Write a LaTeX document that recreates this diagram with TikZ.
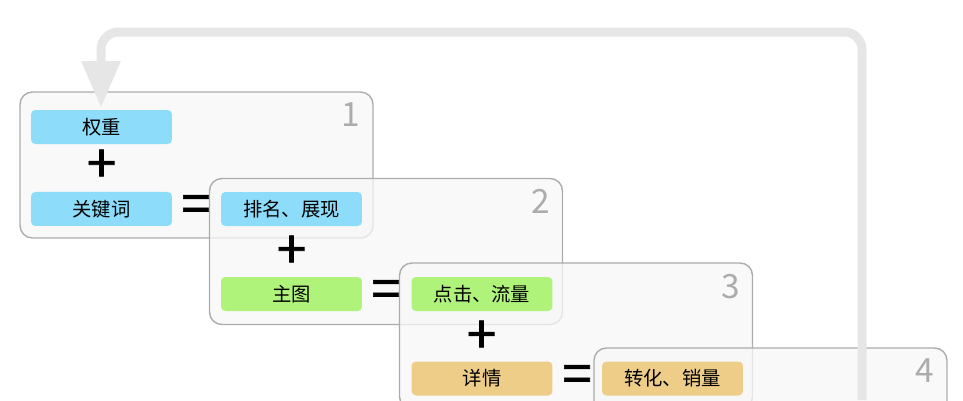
\documentclass[tikz,border=0pt]{standalone}
\usepackage{fontspec}
\setmainfont{Noto Sans CJK SC}
\newfontfamily\opfont[FakeBold=1.3]{Noto Sans CJK SC}
\usepackage{xcolor}
\usetikzlibrary{positioning,arrows.meta}

\definecolor{tagblue}{RGB}{141,220,250}
\definecolor{taggreen}{RGB}{176,243,122}
\definecolor{tagtan}{RGB}{237,205,136}
\definecolor{loopgray}{RGB}{230,230,230}

\begin{document}
\begin{tikzpicture}[
  x=0.02cm, y=-0.02cm,
  node distance=0.96cm,
  stage/.style={rectangle, draw=gray!65, fill=gray!6, fill opacity=0.75, rounded corners=7pt, line width=0.8pt, minimum width=7.06cm, minimum height=2.92cm},
  tag/.style={rectangle, rounded corners=2.5pt, minimum width=2.82cm, minimum height=0.68cm, inner sep=0pt, font=\fontsize{11}{12}\selectfont},
  blu/.style={tag, fill=tagblue},
  grn/.style={tag, fill=taggreen},
  tan/.style={tag, fill=tagtan},
  op/.style={font=\opfont\fontsize{30}{30}\selectfont, inner sep=0pt},
  num/.style={font=\fontsize{19}{19}\selectfont, text=gray!65, anchor=north east},
]
\useasboundingbox (0,0) rectangle (963,400);

% Stage 1
\node[stage] (s1) at (196.5,165) {};
\node[blu] (w1) at (101.5,127) {权重};
\node[blu, below=of w1.north, anchor=north, yshift=-0.68cm] (k1) {关键词};
\node[op] (p1) at (101.5,166) {+};
\node[op] (e1) at (196,209) {=};
\node[num] at ([xshift=-4pt,yshift=-3pt]s1.north east) {1};

% Stage 2
\node[stage] (s2) at (386,251.5) {};
\node[blu] (w2) at (291.5,209) {排名、展现};
\node[grn] (k2) at (291.5,294) {主图};
\node[op] (p2) at (291.5,252) {+};
\node[op] (e2) at (386,294) {=};
\node[num] at ([xshift=-4pt,yshift=-3pt]s2.north east) {2};

% Stage 3
\node[stage] (s3) at (576,336) {};
\node[grn] (w3) at (482,294) {点击、流量};
\node[tan] (k3) at (482,378.5) {详情};
\node[op] (p3) at (481.5,337) {+};
\node[op] (e3) at (577,379) {=};
\node[num] at ([xshift=-4pt,yshift=-3pt]s3.north east) {3};

% Stage 4
\node[stage] (s4) at (770.5,421) {};
\node[tan] (w4) at (672.5,378.5) {转化、销量};
\node[num] at ([xshift=-4pt,yshift=-3pt]s4.north east) {4};

% Loop back
\coordinate (loopstart) at (862,400);
\coordinate (looptop) at (862,32);
\coordinate (loopend) at (101,108);
\draw[loopgray, line width=0.18cm, rounded corners=10pt, -{Triangle[width=0.74cm,length=0.94cm]}]
  (loopstart) -- (looptop) -| (loopend);

\end{tikzpicture}
\end{document}
